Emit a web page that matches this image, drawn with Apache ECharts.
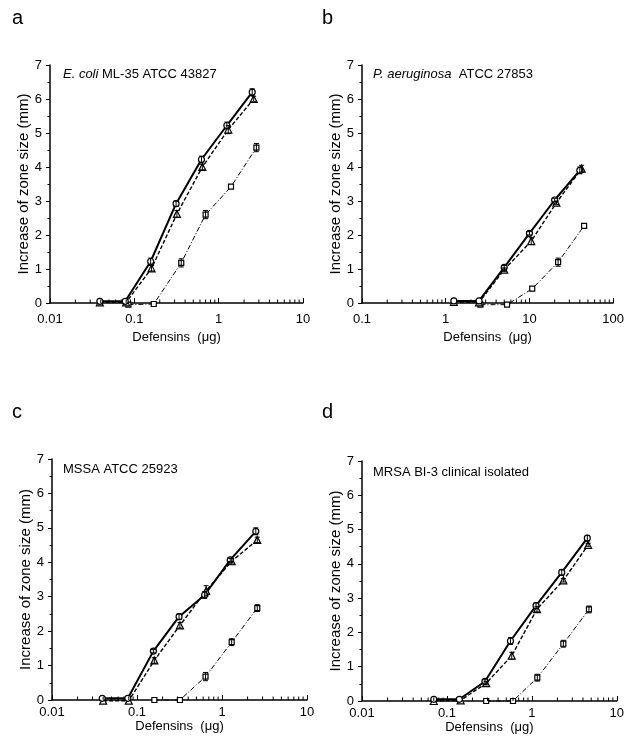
<!DOCTYPE html>
<html>
<head>
<meta charset="utf-8">
<script src="https://cdn.jsdelivr.net/npm/echarts@6/dist/echarts.min.js"></script>
<style>
html, body { margin: 0; padding: 0; background: #fff; }
#chart { width: 627px; height: 742px; }
</style>
</head>
<body>
<div id="chart"></div>
<script>
// a: E. coli ML-35
var aCircleX = [0.039, 0.078, 0.156, 0.3125, 0.625, 1.25, 2.5];
var aCircleY = [0.05, 0.05, 1.22, 2.92, 4.22, 5.22, 6.2];
var aCircleErr = [0, 0, 0.1, 0.08, 0.1, 0.1, 0.1];
var aTriX = [0.039, 0.08, 0.16, 0.32, 0.64, 1.3, 2.6];
var aTriY = [0.02, 0.02, 1.02, 2.62, 4.0, 5.1, 6.0];
var aTriErr = [0, 0, 0.08, 0.1, 0.08, 0.12, 0.08];
var aSqX = [0.085, 0.17, 0.36, 0.7, 1.4, 2.8];
var aSqY = [-0.05, -0.03, 1.18, 2.6, 3.42, 4.57];
var aSqErr = [0, 0, 0.12, 0.12, 0, 0.12];

// b: P. aeruginosa
var bCircleX = [1.25, 2.5, 5, 10, 20, 40];
var bCircleY = [0.06, 0.06, 1.05, 2.05, 3.03, 3.9];
var bCircleErr = [0, 0, 0.05, 0.05, 0.05, 0.1];
var bTriX = [1.25, 2.5, 5, 10.5, 21, 42];
var bTriY = [0.03, 0.02, 0.98, 1.82, 2.95, 3.95];
var bTriErr = [0, 0, 0.05, 0.1, 0.05, 0.1];
var bSqX = [2.6, 5.4, 10.8, 22, 45];
var bSqY = [-0.05, -0.05, 0.42, 1.2, 2.27];
var bSqErr = [0, 0, 0, 0.12, 0];

// c: MSSA
var cCircleX = [0.039, 0.078, 0.156, 0.3125, 0.625, 1.25, 2.5];
var cCircleY = [0.05, 0.05, 1.42, 2.42, 3.05, 4.07, 4.9];
var cCircleErr = [0, 0, 0.05, 0.08, 0.1, 0.05, 0.1];
var cTriX = [0.04, 0.08, 0.16, 0.32, 0.65, 1.3, 2.6];
var cTriY = [-0.02, -0.02, 1.15, 2.17, 3.17, 4.03, 4.65];
var cTriErr = [0, 0, 0.08, 0.08, 0.15, 0.08, 0.08];
var cSqX = [0.16, 0.32, 0.64, 1.3, 2.6];
var cSqY = [0, 0, 0.68, 1.68, 2.67];
var cSqErr = [0, 0, 0.12, 0.1, 0.1];

// d: MRSA
var dCircleX = [0.07, 0.14, 0.28, 0.56, 1.12, 2.25, 4.5];
var dCircleY = [0.05, 0.05, 0.57, 1.75, 2.78, 3.75, 4.75];
var dCircleErr = [0, 0, 0.05, 0.1, 0.08, 0.08, 0.08];
var dTriX = [0.07, 0.145, 0.29, 0.58, 1.15, 2.35, 4.6];
var dTriY = [0, 0.02, 0.52, 1.32, 2.68, 3.52, 4.55];
var dTriErr = [0, 0, 0.05, 0.1, 0.08, 0.05, 0.05];
var dSqX = [0.29, 0.6, 1.16, 2.35, 4.7];
var dSqY = [0, 0, 0.68, 1.67, 2.67];
var dSqErr = [0, 0, 0.1, 0.1, 0.1];

var xRanges = [[0.01, 10], [0.1, 100], [0.01, 10], [0.01, 10]];
var panelLetters = ['a', 'b', 'c', 'd'];
var yName = 'Increase of zone size (mm)';
var xName = 'Defensins  (\u03bcg)';

var FONT = 'Liberation Sans, Arial, Helvetica, sans-serif';

var panels = [
    { c: [aCircleX, aCircleY, aCircleErr], t: [aTriX, aTriY, aTriErr], s: [aSqX, aSqY, aSqErr] },
    { c: [bCircleX, bCircleY, bCircleErr], t: [bTriX, bTriY, bTriErr], s: [bSqX, bSqY, bSqErr] },
    { c: [cCircleX, cCircleY, cCircleErr], t: [cTriX, cTriY, cTriErr], s: [cSqX, cSqY, cSqErr] },
    { c: [dCircleX, dCircleY, dCircleErr], t: [dTriX, dTriY, dTriErr], s: [dSqX, dSqY, dSqErr] }
];

var grids = [
    { left: 50, top: 65, width: 253, height: 238 },
    { left: 362, top: 65, width: 253, height: 238 },
    { left: 52, top: 459, width: 255, height: 241 },
    { left: 362, top: 461, width: 256, height: 240 }
];

function pairs(xs, ys) {
    return xs.map(function (x, i) { return [x, ys[i]]; });
}

// minor ticks 2..9 in each decade
function minorTicks(range) {
    var out = [];
    for (var d = range[0]; d < range[1] * 0.999; d *= 10) {
        for (var k = 2; k <= 9; k++) out.push([+(d * k).toPrecision(3), 0]);
    }
    return out;
}

function errorSeries(i, arr) {
    var data = arr[0].map(function (x, j) { return [x, arr[1][j], arr[2][j]]; })
        .filter(function (d) { return d[2] > 0; });
    return {
        type: 'custom',
        xAxisIndex: i, yAxisIndex: i,
        data: data,
        z: 5,
        clip: false,
        silent: true,
        encode: { x: 0, y: 1 },
        renderItem: function (params, api) {
            var x = api.value(0), y = api.value(1), e = api.value(2);
            var top = api.coord([x, y + e]);
            var bot = api.coord([x, y - e]);
            var w = 2.5;
            var st = { stroke: '#000', lineWidth: 1 };
            return {
                type: 'group',
                children: [
                    { type: 'line', shape: { x1: top[0], y1: top[1], x2: bot[0], y2: bot[1] }, style: st },
                    { type: 'line', shape: { x1: top[0] - w, y1: top[1], x2: top[0] + w, y2: top[1] }, style: st },
                    { type: 'line', shape: { x1: bot[0] - w, y1: bot[1], x2: bot[0] + w, y2: bot[1] }, style: st }
                ]
            };
        }
    };
}

function lineSeries(i, arr, symbol, size, lineStyle) {
    return {
        type: 'line',
        xAxisIndex: i, yAxisIndex: i,
        data: pairs(arr[0], arr[1]),
        symbol: symbol,
        symbolSize: size,
        showAllSymbol: true,
        clip: false,
        z: 3,
        itemStyle: { color: '#fff', borderColor: '#000', borderWidth: 1.2 },
        lineStyle: lineStyle
    };
}

var xAxes = [], yAxes = [], series = [];
panels.forEach(function (p, i) {
    var top = i < 2;
    xAxes.push({
        gridIndex: i,
        type: 'log',
        logBase: 10,
        min: xRanges[i][0],
        max: xRanges[i][1],
        name: xName,
        nameLocation: 'middle',
        nameGap: top ? 28 : 17,
        nameTextStyle: { fontSize: 13, color: '#000', fontFamily: FONT, verticalAlign: 'top' },
        axisLine: { lineStyle: { color: '#000', width: 1.5 } },
        axisTick: { inside: true, length: 5, lineStyle: { color: '#000', width: 1 } },
        axisLabel: { fontSize: 13, color: '#000', fontFamily: FONT, margin: top ? 10 : 6 },
        splitLine: { show: false }
    });
    yAxes.push({
        gridIndex: i,
        type: 'value',
        min: 0,
        max: 7,
        interval: 1,
        name: yName,
        nameLocation: 'middle',
        nameGap: 11,
        nameTextStyle: { fontSize: 15, color: '#000', fontFamily: FONT },
        axisLine: { show: true, lineStyle: { color: '#000', width: 1.5 } },
        axisTick: { show: true, length: 4, lineStyle: { color: '#000' } },
        minorTick: { show: true, splitNumber: 2, length: 2.5, lineStyle: { color: '#000' } },
        axisLabel: { fontSize: 13, color: '#000', fontFamily: FONT, margin: 8 },
        splitLine: { show: false },
        minorSplitLine: { show: false }
    });
    series.push({
        type: 'custom',
        coordinateSystem: 'cartesian2d',
        xAxisIndex: i, yAxisIndex: i,
        data: minorTicks(xRanges[i]),
        clip: false,
        silent: true,
        z: 10,
        encode: { x: 0, y: 1 },
        renderItem: function (params, api) {
            var pt = api.coord([api.value(0), api.value(1)]);
            return {
                type: 'rect',
                shape: { x: pt[0] - 0.5, y: pt[1] - 3.5, width: 1, height: 3.5 },
                style: { fill: '#000' }
            };
        }
    });
    series.push(lineSeries(i, p.s, 'rect', 5, { color: '#000', width: 1, type: [5, 2, 1, 2] }));
    series.push(lineSeries(i, p.t, 'triangle', 7, { color: '#000', width: 1.4, type: [4, 2] }));
    series.push(lineSeries(i, p.c, 'circle', 6, { color: '#000', width: 2, type: 'solid' }));
    series.push(errorSeries(i, p.s));
    series.push(errorSeries(i, p.t));
    series.push(errorSeries(i, p.c));
});

var letterPos = [[12, 8], [322, 8], [12, 402], [322, 402]];
var notes = [
    { text: '{i|E. coli} ML-35 ATCC 43827', left: 63, top: 68 },
    { text: '{i|P. aeruginosa}  ATCC 27853', left: 373, top: 68 },
    { text: 'MSSA ATCC 25923', left: 63, top: 463 },
    { text: 'MRSA BI-3 clinical isolated', left: 373, top: 466 }
];

var titles = [];
panelLetters.forEach(function (l, i) {
    titles.push({
        text: l, left: letterPos[i][0], top: letterPos[i][1], padding: 0,
        textStyle: { fontSize: 20, fontWeight: 'normal', color: '#000', fontFamily: FONT }
    });
});
notes.forEach(function (n) {
    titles.push({
        text: n.text, left: n.left, top: n.top, padding: 0,
        textStyle: {
            fontSize: 13, fontWeight: 'normal', color: '#000', fontFamily: FONT,
            rich: { i: { fontStyle: 'italic', fontSize: 13, color: '#000', fontFamily: FONT } }
        }
    });
});

var myChart = echarts.init(document.getElementById('chart'));
myChart.setOption({
    animation: false,
    backgroundColor: '#fff',
    title: titles,
    grid: grids,
    xAxis: xAxes,
    yAxis: yAxes,
    series: series
});
</script>
</body>
</html>
